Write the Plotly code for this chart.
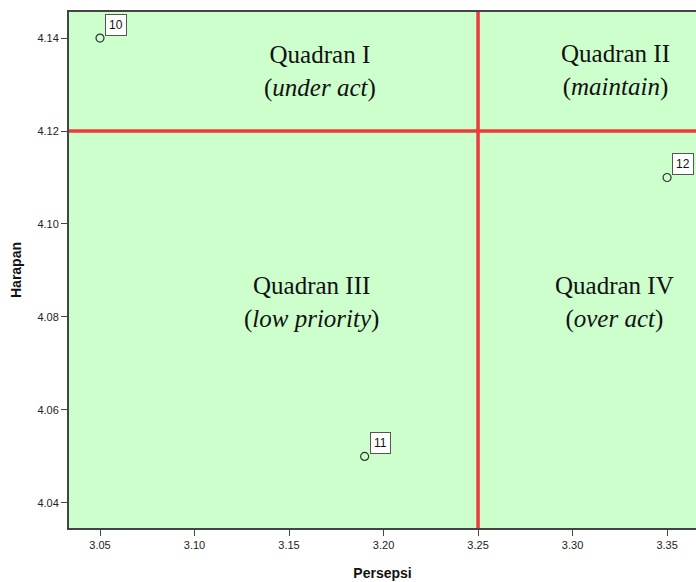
import plotly.graph_objects as go

# Data
ids = ["10", "11", "12"]
persepsi = [3.05, 3.19, 3.35]
harapan = [4.14, 4.05, 4.11]
x_mean = 3.25
y_mean = 4.12
quad_titles = ["Quadran I", "Quadran II", "Quadran III", "Quadran IV"]
quad_sub = ["under act", "maintain", "low priority", "over act"]
quad_x = [3.1664, 3.3225, 3.1619, 3.322]
quad_y = [4.1327, 4.1330, 4.0832, 4.0832]
x_ticks = [3.05, 3.10, 3.15, 3.20, 3.25, 3.30, 3.35]
y_ticks = [4.04, 4.06, 4.08, 4.10, 4.12, 4.14]

x_range = [3.0336, 3.3653]
y_range = [4.0346, 4.1456]

fig = go.Figure()

fig.add_trace(go.Scatter(
    x=persepsi, y=harapan, mode="markers",
    marker=dict(symbol="circle-open", size=8, color="#333333", line=dict(width=1.2)),
    hoverinfo="skip", showlegend=False,
))

shapes = [
    dict(type="line", xref="x", yref="paper", x0=x_mean, x1=x_mean, y0=0, y1=1,
         line=dict(color="#ee3b3b", width=3.5)),
    dict(type="line", xref="paper", yref="y", x0=0, x1=1, y0=y_mean, y1=y_mean,
         line=dict(color="#ee3b3b", width=3.5)),
]

annotations = []
for i, px, py in zip(ids, persepsi, harapan):
    annotations.append(dict(
        x=px, y=py, text=i, showarrow=False, xanchor="left", yanchor="bottom",
        xshift=5, yshift=2, bgcolor="white", bordercolor="#555555", borderwidth=1,
        borderpad=3, font=dict(family="Arial, Liberation Sans", size=12, color="#111111"),
    ))
for t, s, qx, qy in zip(quad_titles, quad_sub, quad_x, quad_y):
    annotations.append(dict(
        x=qx, y=qy, text=f"{t}<br>(<i>{s}</i>)", showarrow=False,
        xanchor="center", yanchor="middle", align="center",
        font=dict(family="Liberation Serif, Times New Roman", size=25, color="#111111"),
    ))

fig.update_layout(
    width=696, height=582,
    margin=dict(l=69, r=0, t=12, b=54, autoexpand=False),
    paper_bgcolor="white", plot_bgcolor="#ccffcc",
    shapes=shapes, annotations=annotations,
    xaxis=dict(
        range=x_range, tickmode="array", tickvals=x_ticks, automargin=False,
        ticktext=[f"{v:.2f}" for v in x_ticks],
        showgrid=False, zeroline=False, showline=True, linecolor="#444444", linewidth=2,
        mirror=True, ticks="outside", ticklen=6, tickcolor="#444444", tickwidth=1,
        tickfont=dict(family="Arial, Liberation Sans", size=11, color="#222222"),
        title=dict(text="<b>Persepsi</b>", font=dict(family="Arial, Liberation Sans", size=14, color="#111111"),
                   standoff=18),
    ),
    yaxis=dict(
        range=y_range, tickmode="array", tickvals=y_ticks, automargin=False,
        ticktext=[f"{v:.2f}" for v in y_ticks],
        showgrid=False, zeroline=False, showline=True, linecolor="#444444", linewidth=2,
        ticks="outside", ticklen=6, tickcolor="#444444", tickwidth=1,
        tickfont=dict(family="Arial, Liberation Sans", size=11, color="#222222"),
        title=dict(text="<b>Harapan</b>", font=dict(family="Arial, Liberation Sans", size=14, color="#111111"),
                   standoff=12),
    ),
)

fig.write_html("out.html", config={"displayModeBar": False},
               post_script="document.body.style.margin='0';document.body.style.overflow='hidden';")
